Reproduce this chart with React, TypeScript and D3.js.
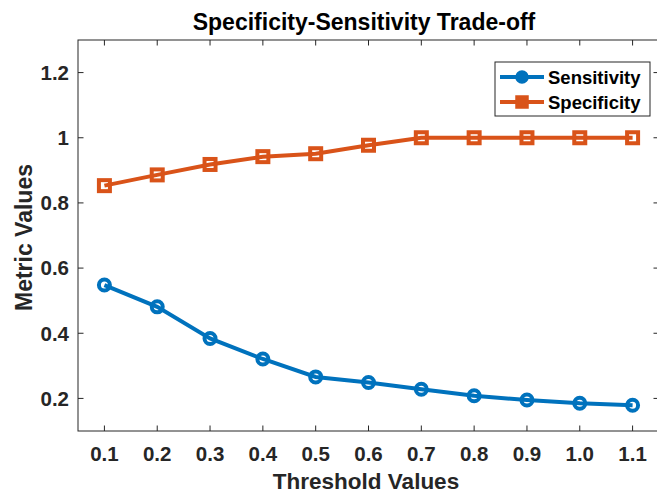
import React, { useEffect, useRef } from 'react';
import * as d3 from 'd3';

const thresholds = [0.1, 0.2, 0.3, 0.4, 0.5, 0.6, 0.7, 0.8, 0.9, 1.0, 1.1];
const sensitivity = [0.548, 0.481, 0.384, 0.321, 0.266, 0.249, 0.228, 0.208, 0.195, 0.185, 0.179];
const specificity = [0.853, 0.886, 0.918, 0.942, 0.951, 0.977, 1.0, 1.0, 1.0, 1.0, 1.0];
const xTickLabels = ['0.1', '0.2', '0.3', '0.4', '0.5', '0.6', '0.7', '0.8', '0.9', '1.0', '1.1'];
const yTicks = [0.2, 0.4, 0.6, 0.8, 1, 1.2];

const W = 657;
const H = 495;
const FONT = 'Liberation Sans, Arial, Helvetica, sans-serif';
const AXIS = '#262626';

const App: React.FC = () => {
  const svgRef = useRef<SVGSVGElement | null>(null);

  useEffect(() => {
    if (!svgRef.current) return;
    const svg = d3.select(svgRef.current);
    svg.selectAll('*').remove();

    const left = 78, right = 659, top = 40, bottom = 431;
    const x = d3.scaleLinear().domain([0.05, 1.15]).range([left, right]);
    const y = d3.scaleLinear().domain([0.1, 1.3]).range([bottom, top]);

    svg.append('rect').attr('width', W).attr('height', H).attr('fill', '#fff');

    // box
    svg.append('rect')
      .attr('x', left).attr('y', top)
      .attr('width', right - left).attr('height', bottom - top)
      .attr('fill', 'none').attr('stroke', AXIS).attr('stroke-width', 1);

    const tk = 5.5;
    const g = svg.append('g').attr('stroke', AXIS).attr('stroke-width', 1);
    thresholds.forEach(t => {
      g.append('line').attr('x1', x(t)).attr('x2', x(t)).attr('y1', bottom).attr('y2', bottom - tk);
      g.append('line').attr('x1', x(t)).attr('x2', x(t)).attr('y1', top).attr('y2', top + tk);
    });
    yTicks.forEach(v => {
      g.append('line').attr('x1', left).attr('x2', left + tk).attr('y1', y(v)).attr('y2', y(v));
      g.append('line').attr('x1', right).attr('x2', right - tk).attr('y1', y(v)).attr('y2', y(v));
    });

    const txt = svg.append('g')
      .attr('font-family', FONT).attr('font-weight', 'bold').attr('fill', AXIS);

    txt.selectAll('text.xt').data(thresholds).join('text')
      .attr('x', d => x(d)).attr('y', 461)
      .attr('text-anchor', 'middle').attr('font-size', 20.5)
      .text((d, i) => xTickLabels[i]);

    txt.selectAll('text.yt').data(yTicks).join('text')
      .attr('x', 69).attr('y', d => y(d)).attr('dy', '0.36em')
      .attr('text-anchor', 'end').attr('font-size', 20.5)
      .text(d => d3.format('~g')(d));

    txt.append('text')
      .attr('x', 366).attr('y', 489)
      .attr('text-anchor', 'middle').attr('font-size', 22.5)
      .text('Threshold Values');

    txt.append('text')
      .attr('transform', `translate(32,237.5) rotate(-90)`)
      .attr('text-anchor', 'middle').attr('font-size', 23)
      .text('Metric Values');

    svg.append('text')
      .attr('x', 364).attr('y', 30)
      .attr('text-anchor', 'middle')
      .attr('font-family', FONT).attr('font-weight', 'bold').attr('font-size', 23)
      .attr('fill', '#000')
      .text('Specificity-Sensitivity Trade-off');

    const line = d3.line<number>()
      .x((d, i) => x(thresholds[i]))
      .y(d => y(d));

    const blue = '#0072BD';
    const orange = '#D95319';

    svg.append('path').datum(sensitivity)
      .attr('d', line).attr('fill', 'none').attr('stroke', blue).attr('stroke-width', 4);
    svg.append('g').selectAll('circle').data(sensitivity).join('circle')
      .attr('cx', (d, i) => x(thresholds[i])).attr('cy', d => y(d)).attr('r', 5.5)
      .attr('fill', 'none').attr('stroke', blue).attr('stroke-width', 4);

    svg.append('path').datum(specificity)
      .attr('d', line).attr('fill', 'none').attr('stroke', orange).attr('stroke-width', 4);
    svg.append('g').selectAll('rect').data(specificity).join('rect')
      .attr('x', (d, i) => x(thresholds[i]) - 5.5).attr('y', d => y(d) - 5.5)
      .attr('width', 11).attr('height', 11)
      .attr('fill', 'none').attr('stroke', orange).attr('stroke-width', 4);

    // legend
    const lg = svg.append('g');
    lg.append('rect').attr('x', 495).attr('y', 62).attr('width', 155).attr('height', 54)
      .attr('fill', '#fff').attr('stroke', AXIS).attr('stroke-width', 1);
    const items = [
      { name: 'Sensitivity', color: blue, marker: 'circle', yy: 77 },
      { name: 'Specificity', color: orange, marker: 'square', yy: 102 },
    ];
    items.forEach(it => {
      lg.append('line').attr('x1', 500).attr('x2', 544).attr('y1', it.yy).attr('y2', it.yy)
        .attr('stroke', it.color).attr('stroke-width', 4);
      if (it.marker === 'circle') {
        lg.append('circle').attr('cx', 522).attr('cy', it.yy).attr('r', 5)
          .attr('fill', it.color).attr('stroke', it.color).attr('stroke-width', 3.5);
      } else {
        lg.append('rect').attr('x', 517).attr('y', it.yy - 5).attr('width', 10).attr('height', 10)
          .attr('fill', it.color).attr('stroke', it.color).attr('stroke-width', 3.5);
      }
      lg.append('text').attr('x', 548).attr('y', it.yy).attr('dy', '0.36em')
        .attr('font-family', FONT).attr('font-weight', 'bold').attr('font-size', 18.5)
        .attr('fill', '#000').text(it.name);
    });
  }, []);

  return (
    <svg
      ref={svgRef}
      width={W}
      height={H}
      style={{ position: 'absolute', left: 0, top: 0 }}
    />
  );
};

export default App;
